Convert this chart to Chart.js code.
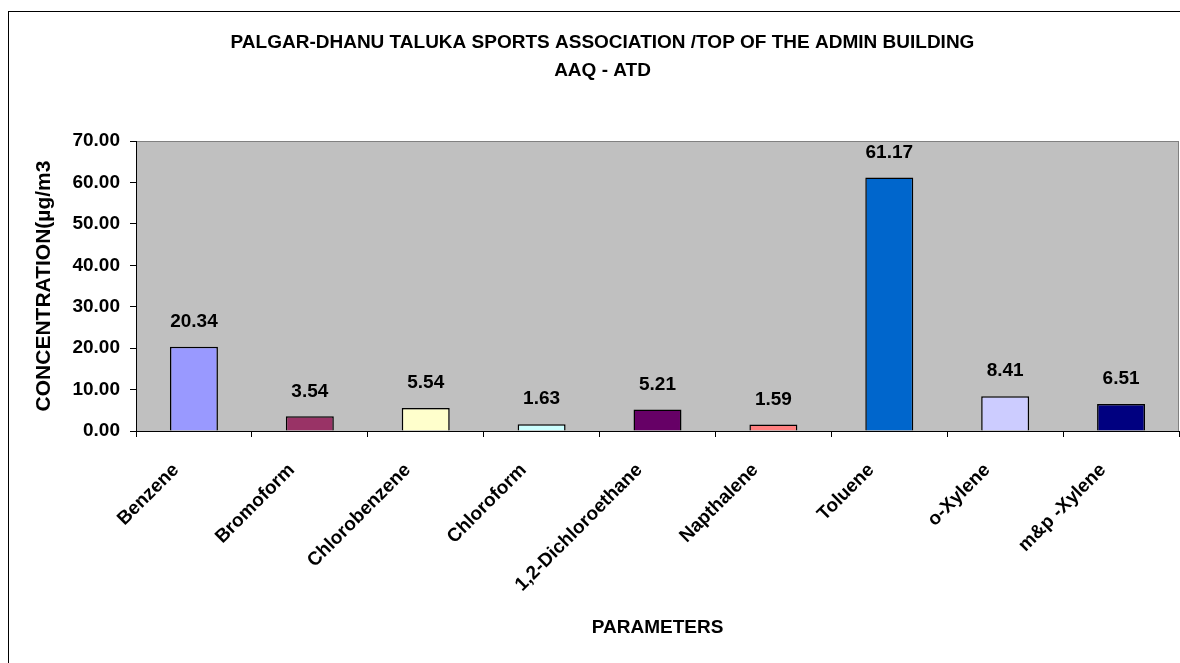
<!DOCTYPE html>
<html>
<head>
<meta charset="utf-8">
<script src="https://cdn.jsdelivr.net/npm/chart.js@4/dist/chart.umd.min.js"></script>
<style>
  html, body { margin: 0; padding: 0; background: #fff; }
  #wrap { width: 1180px; height: 663px; }
</style>
</head>
<body>
<div id="wrap"><canvas id="chart" width="1180" height="663"></canvas></div>
<script>
const TITLE_LINES = ['PALGAR-DHANU TALUKA SPORTS ASSOCIATION /TOP OF THE ADMIN BUILDING', 'AAQ - ATD'];
const PARAMETERS = ['Benzene', 'Bromoform', 'Chlorobenzene', 'Chloroform', '1,2-Dichloroethane', 'Napthalene', 'Toluene', 'o-Xylene', 'm&p -Xylene'];
const CONCENTRATION = [20.34, 3.54, 5.54, 1.63, 5.21, 1.59, 61.17, 8.41, 6.51];
const BAR_COLORS = ['#9999FF', '#993366', '#FFFFCC', '#CCFFFF', '#660066', '#FF8080', '#0066CC', '#CCCCFF', '#000080'];
const Y_TICKS = [0, 10, 20, 30, 40, 50, 60, 70];

const FONT = 'Arial, "Liberation Sans", sans-serif';
Chart.defaults.font.family = FONT;
Chart.defaults.color = '#000';

// fond gris de la zone de tracé + cadre extérieur
const frame = {
  id: 'frame',
  afterLayout(chart) {
    // titre légèrement décalé vers la droite comme sur l'original
    if (chart.titleBlock) chart.titleBlock.left += 26;
  },
  beforeDraw(chart) {
    const ctx = chart.ctx, a = chart.chartArea;
    ctx.save();
    ctx.strokeStyle = '#000';
    ctx.lineWidth = 1;
    ctx.strokeRect(8.5, 11.5, 1200, 700);
    ctx.fillStyle = '#C0C0C0';
    ctx.fillRect(a.left, a.top, a.right - a.left, a.bottom - a.top);
    ctx.strokeStyle = '#808080';
    ctx.strokeRect(a.left + 0.5, a.top + 0.5, a.right - a.left - 1, a.bottom - a.top);
    ctx.restore();
  }
};

const valueLabels = {
  id: 'valueLabels',
  afterDatasetsDraw(chart) {
    const ctx = chart.ctx;
    const meta = chart.getDatasetMeta(0);
    ctx.save();
    ctx.font = 'bold 19px ' + FONT;
    ctx.fillStyle = '#000';
    ctx.textAlign = 'center';
    ctx.textBaseline = 'middle';
    meta.data.forEach((bar, i) => {
      ctx.fillText(CONCENTRATION[i].toFixed(2), bar.x, bar.y - 25);
    });
    ctx.restore();
  }
};

new Chart(document.getElementById('chart'), {
  type: 'bar',
  data: {
    labels: PARAMETERS,
    datasets: [{
      data: CONCENTRATION,
      backgroundColor: BAR_COLORS,
      borderColor: '#000',
      borderWidth: 1.5,
      categoryPercentage: 1,
      barPercentage: 0.414
    }]
  },
  options: {
    responsive: false,
    animation: false,
    layout: { padding: { top: 0, left: 0, right: 1, bottom: 0 } },
    plugins: {
      legend: { display: false },
      tooltip: { enabled: false },
      title: {
        display: true,
        text: TITLE_LINES,
        color: '#000',
        font: { size: 19, weight: 'bold', lineHeight: '28px' },
        padding: { top: 29, bottom: 56 }
      }
    },
    scales: {
      x: {
        afterFit(s) { s.height = 232; },
        grid: { drawOnChartArea: false, tickLength: 6, color: '#000', offset: true },
        border: { color: '#000', width: 1 },
        ticks: {
          minRotation: 45, maxRotation: 45,
          padding: 22, labelOffset: -18,
          font: { size: 19, weight: 'bold' }, color: '#000'
        },
        title: {
          display: true, text: 'PARAMETERS',
          font: { size: 19, weight: 'bold' }, color: '#000',
          padding: { top: 0, bottom: 24 }
        }
      },
      y: {
        min: 0, max: 70,
        afterFit(s) { s.width = 136; },
        afterBuildTicks(s) { s.ticks = Y_TICKS.map(v => ({ value: v })); },
        grid: { drawOnChartArea: false, tickLength: 6, color: '#000' },
        border: { color: '#000', width: 1 },
        ticks: {
          padding: 10,
          font: { size: 19, weight: 'bold' }, color: '#000',
          callback: v => Number(v).toFixed(2)
        },
        title: {
          display: true, text: 'CONCENTRATION(µg/m3',
          font: { size: 21, weight: 'bold' }, color: '#000',
          padding: { top: 32, bottom: 0 }
        }
      }
    }
  },
  plugins: [frame, valueLabels]
});
</script>
</body>
</html>
